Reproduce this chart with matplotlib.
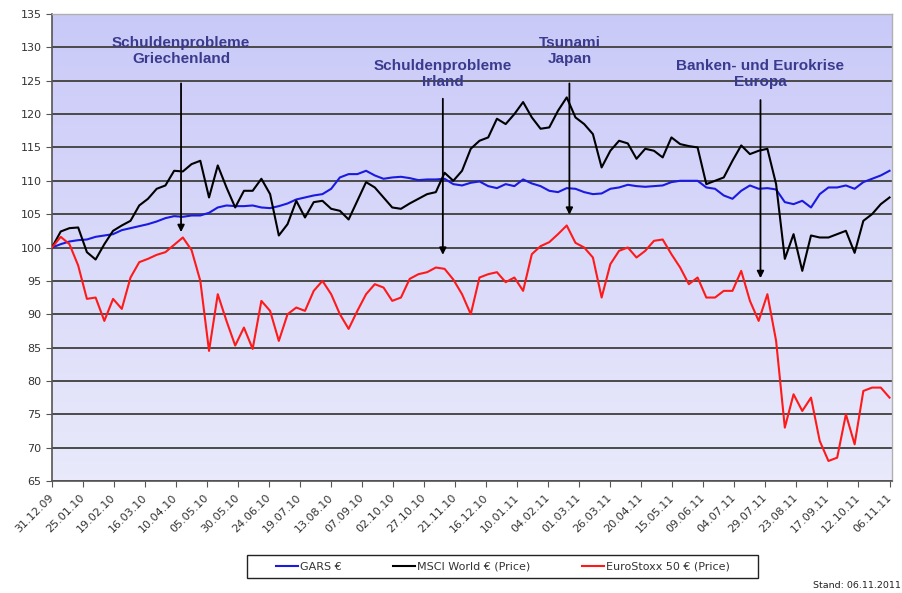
import numpy as np
import pandas as pd
import matplotlib
matplotlib.use("Agg")
import matplotlib.pyplot as plt
from matplotlib.lines import Line2D
from matplotlib.patches import Rectangle

# weekly values, 31.12.2009 .. 06.11.2011 (index 100 at start)
start = "2009-12-31"
end = "2011-11-06"

gars = [100.0, 100.5, 100.9, 101.1, 101.2, 101.6, 101.8, 102.0, 102.6, 102.9,
        103.2, 103.5, 103.9, 104.4, 104.7, 104.6, 104.8, 104.8, 105.2, 106.0,
        106.3, 106.2, 106.2, 106.3, 106.0, 105.9, 106.2, 106.6, 107.2, 107.5,
        107.8, 108.0, 108.8, 110.5, 111.0, 111.0, 111.5, 110.8, 110.3, 110.5,
        110.6, 110.4, 110.1, 110.2, 110.2, 110.3, 109.5, 109.3, 109.7, 109.9,
        109.2, 108.9, 109.5, 109.2, 110.2, 109.6, 109.2, 108.5, 108.3, 108.9,
        108.8, 108.3, 108.0, 108.1, 108.8, 109.0, 109.4, 109.2, 109.1, 109.2,
        109.3, 109.8, 110.0, 110.0, 110.0, 109.0, 108.8, 107.8, 107.3, 108.5,
        109.3, 108.8, 108.9, 108.7, 106.8, 106.5, 107.0, 106.0, 108.0, 109.0,
        109.0, 109.3, 108.8, 109.8, 110.3, 110.8, 111.5]

msci = [100.0, 102.4, 102.9, 103.0, 99.3, 98.2, 100.5, 102.5, 103.3, 104.0,
        106.3, 107.3, 108.8, 109.3, 111.5, 111.4, 112.5, 113.0, 107.5, 112.3,
        109.0, 106.0, 108.5, 108.5, 110.3, 108.0, 101.8, 103.5, 107.0, 104.5,
        106.8, 107.0, 105.8, 105.5, 104.2, 107.0, 109.8, 109.0, 107.5, 106.0,
        105.8, 106.6, 107.3, 108.0, 108.3, 111.2, 110.0, 111.5, 114.8, 116.0,
        116.5, 119.3, 118.5, 120.0, 121.8, 119.5, 117.8, 118.0, 120.5, 122.5,
        119.5, 118.5, 117.0, 112.0, 114.5, 116.0, 115.6, 113.3, 114.8, 114.5,
        113.5, 116.5, 115.5, 115.2, 115.0, 109.5, 110.0, 110.5, 113.0, 115.3,
        114.0, 114.5, 114.8, 109.5, 98.3, 102.0, 96.5, 101.8, 101.5, 101.5,
        102.0, 102.5, 99.2, 104.0, 105.0, 106.5, 107.5]

stoxx = [100.0, 101.6, 100.5, 97.3, 92.3, 92.5, 89.0, 92.3, 90.8, 95.5,
         97.8, 98.3, 98.9, 99.3, 100.4, 101.5, 99.6, 95.0, 84.5, 93.0,
         89.0, 85.3, 88.0, 84.8, 92.0, 90.5, 86.0, 90.0, 91.0, 90.5,
         93.5, 95.0, 93.0, 90.0, 87.8, 90.5, 93.0, 94.5, 94.0, 92.0,
         92.5, 95.3, 96.0, 96.3, 97.0, 96.8, 95.2, 93.0, 90.0, 95.5,
         96.0, 96.3, 94.8, 95.5, 93.5, 99.0, 100.2, 100.8, 102.0, 103.3,
         100.7, 100.0, 98.5, 92.5, 97.5, 99.5, 100.0, 98.5, 99.5, 101.0,
         101.2, 99.0, 97.0, 94.5, 95.5, 92.5, 92.5, 93.5, 93.5, 96.5,
         92.0, 89.0, 93.0, 86.0, 73.0, 78.0, 75.5, 77.5, 71.0, 68.0,
         68.5, 75.0, 70.5, 78.5, 79.0, 79.0, 77.5]

series_names = ["GARS €", "MSCI World € (Price)", "EuroStoxx 50 € (Price)"]
series_colors = ["#1a1ae0", "#000000", "#ff1a1a"]

events = ["Schuldenprobleme\nGriechenland", "Schuldenprobleme\nIrland",
          "Tsunami\nJapan", "Banken- und Eurokrise\nEuropa"]
event_dates = ["2010-04-14", "2010-11-11", "2011-02-21", "2011-07-25"]

# annotation layout (value axis units)
text_y = [129.5, 126.0, 129.5, 126.0]
arrow_top = [124.6, 122.3, 124.6, 122.1]
arrow_tip = [102.3, 98.9, 104.9, 95.4]

dates = pd.date_range(start, end, periods=len(gars))
tick_dates = pd.date_range(start, periods=28, freq="25D")
tick_labels = [d.strftime("%d.%m.%y") for d in tick_dates]

W, H = 903, 593
fig = plt.figure(figsize=(W / 100, H / 100), dpi=100)
ax = fig.add_axes([52 / W, 1 - 481 / H, 840 / W, 467 / H])

# lavender gradient background
grad = np.linspace(0, 1, 256).reshape(-1, 1)
top = np.array([0.79, 0.79, 0.975])
bot = np.array([0.915, 0.915, 0.985])
img = top[None, None, :] * (1 - grad[:, :, None]) + bot[None, None, :] * grad[:, :, None]
ax.imshow(img, extent=[0, 1, 0, 1], transform=ax.transAxes, aspect="auto", zorder=0)

for vals, col in zip([gars, msci, stoxx], series_colors):
    ax.plot(dates, vals, color=col, lw=1.5, zorder=3)

ax.set_ylim(65, 135)
ax.set_yticks(np.arange(65, 136, 5))
ax.set_xlim(pd.Timestamp(start), pd.Timestamp("2011-11-08"))
ax.set_xticks(tick_dates)
ax.set_xticklabels(tick_labels, rotation=45, ha="right", va="center",
                   rotation_mode="anchor", fontsize=8, color="#333333")
ax.tick_params(axis="x", direction="out", length=4, pad=7, color="#555555")
ax.tick_params(axis="y", direction="out", length=4, labelsize=8, labelcolor="#333333",
               color="#555555")
ax.yaxis.grid(True, color="#4a4a4a", lw=1.4, zorder=1)
ax.set_axisbelow(True)

for s in ["left", "bottom"]:
    ax.spines[s].set_color("#555555")
    ax.spines[s].set_linewidth(1.2)
for s in ["top", "right"]:
    ax.spines[s].set_color("#b0b0b0")
    ax.spines[s].set_linewidth(1.0)

for label, d, ty, a0, a1 in zip(events, event_dates, text_y, arrow_top, arrow_tip):
    x = pd.Timestamp(d)
    ax.text(x, ty, label, ha="center", va="center", fontsize=11,
            fontweight="bold", family="Liberation Sans", color="#3a3a8e",
            linespacing=1.15, zorder=5)
    ax.annotate("", xy=(x, a1), xytext=(x, a0),
                arrowprops=dict(arrowstyle="-|>", color="black", lw=1.3,
                                mutation_scale=10, shrinkA=0, shrinkB=0),
                zorder=4)

# legend box drawn separately so the entries get the wide side margins
fig.patches.append(Rectangle((247 / W, 1 - 578 / H), 511 / W, 23 / H,
                             transform=fig.transFigure, facecolor="white",
                             edgecolor="#222222", lw=1.0))
handles = [Line2D([], [], color=c, lw=1.5) for c in series_colors]
leg = fig.legend(handles, series_names, loc="center",
                 bbox_to_anchor=(503 / W, 1 - 566.5 / H),
                 ncol=3, fontsize=8, frameon=False,
                 handlelength=2.0, handletextpad=0.2, columnspacing=4.6,
                 borderpad=0, borderaxespad=0)
for t in leg.get_texts():
    t.set_color("#333333")

fig.text(0.998, 1 - 585 / H, "Stand: 06.11.2011", ha="right", va="center",
         fontsize=6.8, color="#222222")

fig.savefig("out.png", dpi=100)
